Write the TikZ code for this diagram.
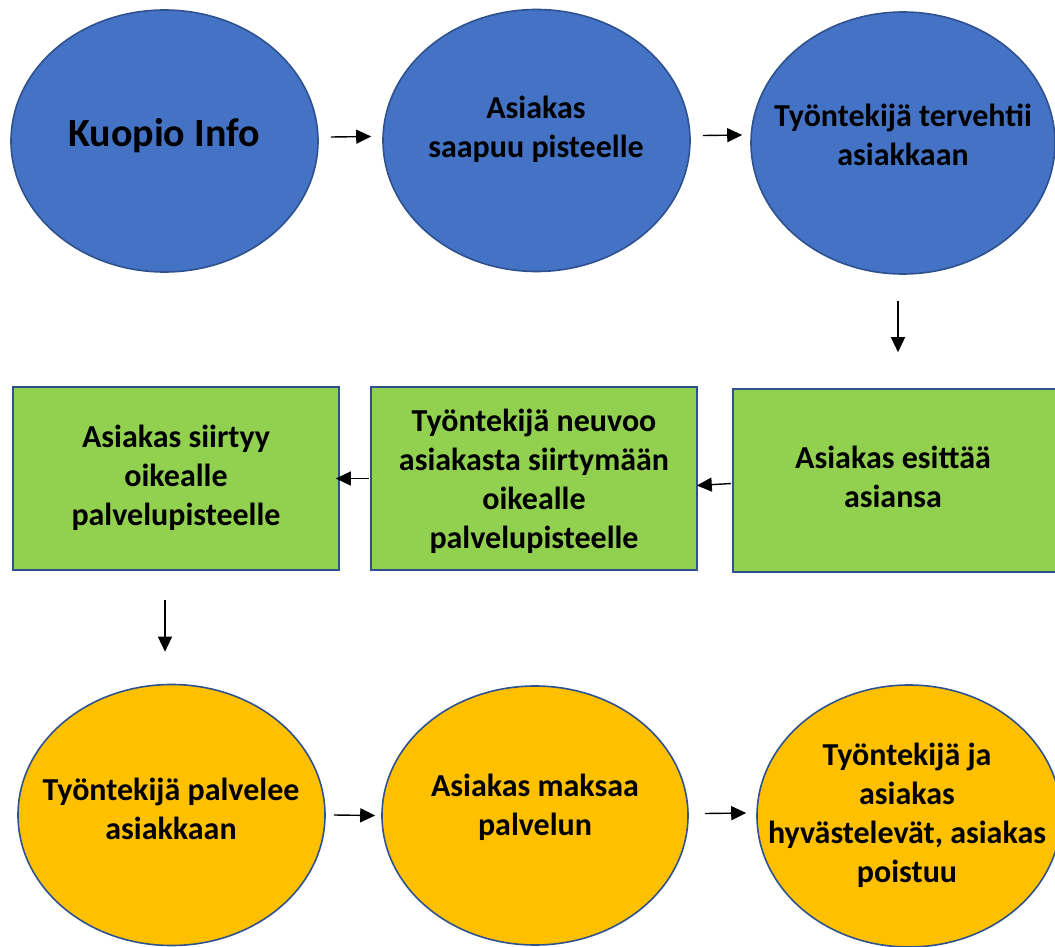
\documentclass[tikz,border=0pt]{standalone}
\usepackage{fontspec}
\setmainfont{Carlito}
\usetikzlibrary{arrows.meta,shapes.geometric}
\definecolor{cblue}{HTML}{4472C4}
\definecolor{cborder}{HTML}{2F528F}
\definecolor{cgreen}{HTML}{92D050}
\definecolor{corange}{HTML}{FFC000}
\tikzset{
  ell/.style={ellipse,draw=cborder,line width=1.6pt,inner sep=0pt},
  blueell/.style={ell,fill=cblue},
  orangeell/.style={ell,fill=corange},
  greenbox/.style={rectangle,draw=cborder,line width=1.6pt,fill=cgreen,inner sep=0pt},
  txt/.style={align=center,font=\bfseries\fontsize{32}{39}\selectfont,text=black,inner sep=0pt},
  arr/.style={-{Triangle[length=15pt,width=14pt]},line width=1.4pt,black}
}
\begin{document}
\begin{tikzpicture}[x=1pt,y=-1pt]
\useasboundingbox (0,0) rectangle (1055,947);
\clip (0,0) rectangle (1055,947);
\fill[white] (0,0) rectangle (1055,947);
% top row
\node[blueell,minimum width=307pt,minimum height=262pt] (e1) at (164.5,141) {};
\node[blueell,minimum width=307pt,minimum height=262pt] (e2) at (536.5,140.5) {};
\node[blueell,minimum width=304pt,minimum height=262pt] (e3) at (903,143) {};
\node[txt,font=\bfseries\fontsize{40}{48}\selectfont] (t1) at (164,136) {Kuopio Info};
\node[txt] (t2) at (536,129) {Asiakas\\saapuu pisteelle};
\node[txt] (t3) at (903,135) {Työntekijä tervehtii\\asiakkaan};
% middle row
\node[greenbox,minimum width=326pt,minimum height=183pt] (r1) at (176,478.5) {};
\node[greenbox,minimum width=326pt,minimum height=183pt] (r2) at (534,478.5) {};
\node[greenbox,minimum width=330pt,minimum height=183pt] (r3) at (898,480.5) {};
\node[txt] (s1) at (176,478) {Asiakas siirtyy\\oikealle\\palvelupisteelle};
\node[txt] (s2) at (534,481) {Työntekijä neuvoo\\asiakasta siirtymään\\oikealle\\palvelupisteelle};
\node[txt] (s3) at (893,477) {Asiakas esittää\\asiansa};
% bottom row
\node[orangeell,minimum width=307pt,minimum height=261pt] (o1) at (171.5,815) {};
\node[orangeell,minimum width=306pt,minimum height=259pt] (o2) at (535,815.5) {};
\node[orangeell,minimum width=304pt,minimum height=262pt] (o3) at (909,816) {};
\node[txt] (u1) at (171,809) {Työntekijä palvelee\\asiakkaan};
\node[txt] (u2) at (535,807.5) {Asiakas maksaa\\palvelun};
\node[txt] (u3) at (907,815) {Työntekijä ja\\asiakas\\hyvästelevät, asiakas\\poistuu};
% connectors
\draw[arr] ([xshift=12pt,yshift=4pt]e1.east) -- ([xshift=-11pt,yshift=4pt]e2.west);
\draw[arr] ([xshift=12pt,yshift=5pt]e2.east) -- ([xshift=-8pt,yshift=8pt]e3.west);
\draw[arr] ([xshift=-5pt,yshift=-26pt]e3.south) -- ([xshift=-5pt,yshift=36pt]e3.south |- r3.north);
\draw[arr] ([xshift=-1pt,yshift=-3pt]r3.west) -- ([xshift=-1pt,yshift=-5pt]r3.west -| r2.east);
\draw[arr] ([xshift=-1pt,yshift=0pt]r2.west) -- ([xshift=-4pt,yshift=0pt]r2.west -| r1.east);
\draw[arr] ([xshift=-11pt,yshift=-29pt]r1.south) -- ([xshift=-11pt,yshift=32pt]r1.south |- o1.north);
\draw[arr] ([xshift=8pt]o1.east) -- ([xshift=-6pt]o2.west);
\draw[arr] ([xshift=16pt,yshift=2pt]o2.east) -- ([xshift=-10pt,yshift=3pt]o3.west);
\end{tikzpicture}
\end{document}
